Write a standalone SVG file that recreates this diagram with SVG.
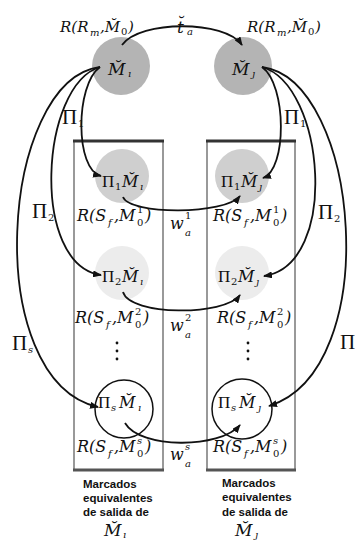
<svg xmlns="http://www.w3.org/2000/svg" width="355" height="543" viewBox="0 0 355 543">
<style>
.lb{font-family:"DejaVu Serif","Liberation Serif",serif;font-style:italic;font-size:16px;fill:#111}
.sb{font-size:10px}
.n{font-style:normal}
.pi{font-family:"Liberation Serif",serif;font-style:normal;font-size:17px;fill:#111}
.pib{font-family:"Liberation Serif",serif;font-style:normal;font-size:21px;fill:#111}
.cap{font-family:"Liberation Sans",Arial,sans-serif;font-weight:bold;font-size:11.5px;fill:#111}
.c{fill:none;stroke:#111;stroke-width:1.8}
.box{fill:none;stroke:#999;stroke-width:2}
.edge{stroke:#333;stroke-width:3}
</style>
<defs>
<marker id="ah" markerUnits="userSpaceOnUse" markerWidth="9" markerHeight="7" refX="8" refY="3.5" orient="auto">
<path d="M0,0 L9,3.5 L0,7 z" fill="#111"/>
</marker>
</defs>
<rect width="355" height="543" fill="#fff"/>

<g id="box-i">
<rect class="box" x="74" y="141" width="89" height="329"/>
<line class="edge" x1="73" y1="141" x2="164" y2="141"/>
<line class="edge" x1="73" y1="470" x2="164" y2="470" style="stroke:#555"/>
<text class="cap"><tspan x="83" y="488">Marcados</tspan><tspan x="83" y="502">equivalentes</tspan><tspan x="83" y="516">de salida de</tspan></text>
<text class="lb" style="font-size:17px"><tspan x="104" y="536">M̆</tspan><tspan class="sb" x="123" y="538">ı</tspan></text>
</g>
<g id="box-j">
<rect class="box" x="207" y="141" width="88" height="329"/>
<line class="edge" x1="206" y1="141" x2="296" y2="141"/>
<line class="edge" x1="206" y1="470" x2="296" y2="470" style="stroke:#555"/>
<text class="cap"><tspan x="222" y="487">Marcados</tspan><tspan x="222" y="501">equivalentes</tspan><tspan x="222" y="516">de salida de</tspan></text>
<text class="lb" style="font-size:17px"><tspan x="235" y="536">M̆</tspan><tspan class="sb" x="255" y="538">ȷ</tspan></text>
</g>

<g id="Mi">
<circle cx="121" cy="66" r="29" fill="#b4b4b4"/>
<text class="lb" style="font-size:17px"><tspan x="108" y="75">M̆</tspan><tspan class="sb" x="128" y="77">ı</tspan></text>
<text class="lb" style="font-size:15px"><tspan x="60" y="32">R(R</tspan><tspan class="sb" x="90" y="36">m</tspan><tspan x="100" y="32">,M̆</tspan><tspan class="sb n" x="121" y="35">0</tspan><tspan x="128" y="32">)</tspan></text>
</g>
<g id="Mj">
<circle cx="243" cy="66" r="29" fill="#b4b4b4"/>
<text class="lb" style="font-size:17px"><tspan x="232" y="75">M̆</tspan><tspan class="sb" x="252" y="77">ȷ</tspan></text>
<text class="lb" style="font-size:15px"><tspan x="247" y="32">R(R</tspan><tspan class="sb" x="277" y="36">m</tspan><tspan x="287" y="32">,M̆</tspan><tspan class="sb n" x="308" y="35">0</tspan><tspan x="315" y="32">)</tspan></text>
</g>

<g id="P1Mi">
<circle cx="122" cy="176" r="27" fill="#cfcfcf"/>
<text><tspan class="pi" x="102" y="187">Π</tspan><tspan class="lb sb n" x="115" y="190">1</tspan><tspan class="lb" x="122" y="187">M̆</tspan><tspan class="lb sb" x="140" y="190">ı</tspan></text>
<text class="lb"><tspan x="77" y="221">R(S</tspan><tspan class="sb" x="108" y="226">f</tspan><tspan x="114" y="221">,M</tspan><tspan class="sb n" x="137" y="226">0</tspan><tspan class="sb n" x="137" y="213">1</tspan><tspan x="145" y="221">)</tspan></text>
</g>
<g id="P1Mj">
<circle cx="242" cy="176" r="27" fill="#cfcfcf"/>
<text><tspan class="pi" x="221" y="187">Π</tspan><tspan class="lb sb n" x="234" y="190">1</tspan><tspan class="lb" x="241" y="187">M̆</tspan><tspan class="lb sb" x="259" y="190">ȷ</tspan></text>
<text class="lb"><tspan x="213" y="221">R(S</tspan><tspan class="sb" x="244" y="226">f</tspan><tspan x="250" y="221">,M</tspan><tspan class="sb n" x="273" y="226">0</tspan><tspan class="sb n" x="273" y="213">1</tspan><tspan x="281" y="221">)</tspan></text>
</g>

<g id="P2Mi">
<circle cx="122" cy="273" r="27" fill="#ececec"/>
<text><tspan class="pi" x="102" y="282">Π</tspan><tspan class="lb sb n" x="115" y="285">2</tspan><tspan class="lb" x="122" y="282">M̆</tspan><tspan class="lb sb" x="140" y="285">ı</tspan></text>
<text class="lb"><tspan x="75" y="323">R(S</tspan><tspan class="sb" x="106" y="328">f</tspan><tspan x="112" y="323">,M</tspan><tspan class="sb n" x="135" y="328">0</tspan><tspan class="sb n" x="135" y="315">2</tspan><tspan x="143" y="323">)</tspan></text>
<circle cx="117" cy="343" r="1.4" fill="#111"/><circle cx="117" cy="351" r="1.4" fill="#111"/><circle cx="117" cy="359" r="1.4" fill="#111"/>
</g>
<g id="P2Mj">
<circle cx="242" cy="273" r="27" fill="#ececec"/>
<text><tspan class="pi" x="218" y="282">Π</tspan><tspan class="lb sb n" x="231" y="285">2</tspan><tspan class="lb" x="238" y="282">M̆</tspan><tspan class="lb sb" x="256" y="285">ȷ</tspan></text>
<text class="lb"><tspan x="217" y="323">R(S</tspan><tspan class="sb" x="248" y="328">f</tspan><tspan x="254" y="323">,M</tspan><tspan class="sb n" x="277" y="328">0</tspan><tspan class="sb n" x="277" y="315">2</tspan><tspan x="285" y="323">)</tspan></text>
<circle cx="248" cy="343" r="1.4" fill="#111"/><circle cx="248" cy="351" r="1.4" fill="#111"/><circle cx="248" cy="359" r="1.4" fill="#111"/>
</g>

<g id="PsMi">
<circle cx="124" cy="409" r="29" fill="#fff" stroke="#111" stroke-width="1.5"/>
<text><tspan class="pi" x="98" y="408">Π</tspan><tspan class="lb sb" x="111" y="411">s</tspan><tspan class="lb" x="119" y="408">M̆</tspan><tspan class="lb sb" x="138" y="411">ı</tspan></text>
<text class="lb"><tspan x="77" y="452">R(S</tspan><tspan class="sb" x="108" y="457">f</tspan><tspan x="114" y="452">,M</tspan><tspan class="sb n" x="137" y="457">0</tspan><tspan class="sb" x="137" y="444">s</tspan><tspan x="145" y="452">)</tspan></text>
</g>
<g id="PsMj">
<circle cx="242" cy="409" r="30" fill="#fff" stroke="#111" stroke-width="1.5"/>
<text><tspan class="pi" x="218" y="408">Π</tspan><tspan class="lb sb" x="231" y="411">s</tspan><tspan class="lb" x="239" y="408">M̆</tspan><tspan class="lb sb" x="258" y="411">ȷ</tspan></text>
<text class="lb"><tspan x="213" y="452">R(S</tspan><tspan class="sb" x="244" y="457">f</tspan><tspan x="250" y="452">,M</tspan><tspan class="sb n" x="273" y="457">0</tspan><tspan class="sb" x="273" y="444">s</tspan><tspan x="281" y="452">)</tspan></text>
</g>

<g id="connectors">
<path class="c" d="M122 45 C140 20 225 20 242 45" marker-end="url(#ah)"/>
<path class="c" d="M100 67 C75 85 75 170 101 176" marker-end="url(#ah)"/>
<path class="c" d="M100 67 C40 85 30 265 101 275" marker-end="url(#ah)"/>
<path class="c" d="M100 67 C0 80 -20 380 98 407" marker-end="url(#ah)"/>
<path class="c" d="M262 67 C287 85 287 170 263 178" marker-end="url(#ah)"/>
<path class="c" d="M262 67 C325 85 340 265 264 276" marker-end="url(#ah)"/>
<path class="c" d="M262 67 C360 80 385 370 269 406" marker-end="url(#ah)"/>
<path class="c" d="M123 197 C130 215 225 215 240 196" marker-end="url(#ah)"/>
<path class="c" d="M123 292 C130 316 225 316 240 295" marker-end="url(#ah)"/>
<path class="c" d="M125 423 C140 449 220 449 240 425" marker-end="url(#ah)"/>
</g>

<g id="connector-labels">
<text class="lb" style="font-size:17px"><tspan x="177" y="33">t̆</tspan><tspan class="sb" x="187" y="35">a</tspan></text>
<text><tspan class="pib" x="62" y="124">Π</tspan><tspan class="lb sb n" x="78" y="127">1</tspan></text>
<text><tspan class="pib" x="284" y="124">Π</tspan><tspan class="lb sb n" x="300" y="127">1</tspan></text>
<text><tspan class="pib" x="32" y="218">Π</tspan><tspan class="lb sb n" x="48" y="221">2</tspan></text>
<text><tspan class="pib" x="318" y="219">Π</tspan><tspan class="lb sb n" x="334" y="222">2</tspan></text>
<text><tspan class="pib" x="12" y="350">Π</tspan><tspan class="lb sb" x="28" y="353">s</tspan></text>
<text class="pib" x="340" y="349">Π</text>
<text class="lb"><tspan x="170" y="229">w</tspan><tspan class="sb" x="185" y="236">a</tspan><tspan class="sb n" x="185" y="219">1</tspan></text>
<text class="lb"><tspan x="170" y="331">w</tspan><tspan class="sb" x="185" y="338">a</tspan><tspan class="sb n" x="185" y="321">2</tspan></text>
<text class="lb"><tspan x="170" y="460">w</tspan><tspan class="sb" x="185" y="467">a</tspan><tspan class="sb" x="185" y="450">s</tspan></text>
</g>
</svg>
